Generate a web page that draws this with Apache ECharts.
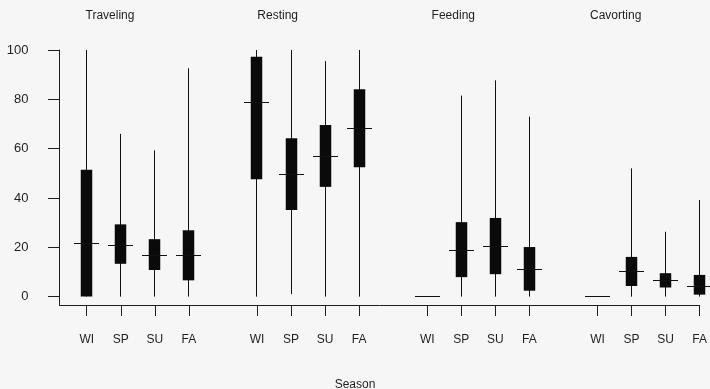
<!DOCTYPE html>
<html>
<head>
<meta charset="utf-8">
<script src="https://cdn.jsdelivr.net/npm/echarts@6/dist/echarts.min.js"></script>
<style>
html,body{margin:0;padding:0;background:#f6f6f6;}
#chart{width:710px;height:389px;}
</style>
</head>
<body>
<div id="chart"></div>
<script>
// Behaviour groups and seasons
const groups = ['Traveling', 'Resting', 'Feeding', 'Cavorting'];
const seasons = ['WI', 'SP', 'SU', 'FA'];
const xAxisName = 'Season';
const yTickValues = [0, 20, 40, 60, 80, 100];

// Each row: [whisker low, box low, median, box high, whisker high], one per season WI, SP, SU, FA
const traveling = [[0, 0, 21.4, 51.4, 100], [0, 13.3, 20.8, 29.3, 66], [0, 10.8, 16.8, 23.3, 59.3], [0, 6.6, 16.8, 26.9, 92.6]];
const resting   = [[0, 47.6, 78.8, 97.3, 100], [1, 35.1, 49.6, 64.2, 100], [0, 44.5, 56.9, 69.6, 95.5], [0, 52.5, 68, 84.1, 100]];
const feeding   = [[0, 0, 0, 0, 0], [0, 7.9, 18.9, 30.2, 81.5], [0, 9.1, 20.3, 31.9, 87.7], [0, 2.4, 11.1, 20.1, 73]];
const cavorting = [[0, 0, 0, 0, 0], [0, 4.3, 10.1, 16.1, 52], [0, 3.7, 6.5, 9.5, 26.3], [0, 0.8, 4.3, 8.8, 39.2]];

const groupData = [traveling, resting, feeding, cavorting];
const slotsPerGroup = seasons.length + 1; // one empty slot between groups

const rows = [];
const tickPos = [];
groupData.forEach((g, gi) => {
  g.forEach((s, si) => {
    const pos = gi * slotsPerGroup + si;
    rows.push([pos].concat(s));
    tickPos.push(pos);
  });
});

const FONT = '"Liberation Sans", Arial, Helvetica, sans-serif';
const INK = '#1e1e1e';

const chart = echarts.init(document.getElementById('chart'), null, {renderer: 'canvas'});

function crisp(v) { return Math.round(v - 0.5) + 0.5; }

const titleX = [110, 277.7, 453.3, 615.7];

const option = {
  backgroundColor: '#f6f6f6',
  animation: false,
  grid: {left: 59.5, right: 10.3, top: 50, bottom: 84},
  graphic: groups.map((name, i) => ({
    type: 'text', x: titleX[i], y: 16,
    style: {text: name, align: 'center', verticalAlign: 'middle', font: '12px ' + FONT, fill: INK}
  })).concat([{
    type: 'text', x: 355, y: 385,
    style: {text: xAxisName, align: 'center', verticalAlign: 'middle', font: '12px ' + FONT, fill: INK}
  }]),
  xAxis: {
    type: 'value', min: -0.8, max: (groups.length - 1) * slotsPerGroup + seasons.length - 1,
    axisLine: {show: true, onZero: false, lineStyle: {color: INK, width: 1}},
    axisTick: {show: true, length: 11, customValues: tickPos, lineStyle: {color: INK, width: 1}},
    axisLabel: {
      customValues: tickPos, margin: 29, fontSize: 12, color: INK, fontFamily: FONT,
      formatter: v => seasons[Math.round(v) % slotsPerGroup] || ''
    },
    splitLine: {show: false}
  },
  yAxis: {
    type: 'value', min: -3.4, max: 100,
    axisLine: {show: true, onZero: false, lineStyle: {color: INK, width: 1}},
    axisTick: {show: true, length: 11.5, customValues: yTickValues, lineStyle: {color: INK, width: 1}},
    axisLabel: {customValues: yTickValues, margin: 31, fontSize: 13, color: INK, fontFamily: FONT},
    splitLine: {show: false}
  },
  series: [{
    type: 'custom',
    data: rows,
    encode: {x: 0, y: [1, 2, 3, 4, 5]},
    renderItem: function (params, api) {
      const x = api.value(0);
      const pLo = api.coord([x, api.value(1)]);
      const pQ1 = api.coord([x, api.value(2)]);
      const pMed = api.coord([x, api.value(3)]);
      const pQ3 = api.coord([x, api.value(4)]);
      const pHi = api.coord([x, api.value(5)]);
      const cx = crisp(pLo[0]);
      const boxW = 11.5, medW = 25;
      const children = [];
      if (pLo[1] - pHi[1] > 0.5) {
        children.push({
          type: 'line',
          shape: {x1: cx, y1: pHi[1], x2: cx, y2: pLo[1]},
          style: {stroke: '#111', lineWidth: 1}
        });
      }
      children.push({
        type: 'rect',
        shape: {x: cx - boxW / 2, y: pQ3[1], width: boxW, height: pQ1[1] - pQ3[1]},
        style: {fill: '#0a0a0a'}
      });
      const my = crisp(pMed[1]);
      children.push({
        type: 'line',
        shape: {x1: cx - medW / 2, y1: my, x2: cx + medW / 2, y2: my},
        style: {stroke: '#111', lineWidth: 1}
      });
      return {type: 'group', children: children};
    }
  }]
};

chart.setOption(option);
</script>
</body>
</html>
